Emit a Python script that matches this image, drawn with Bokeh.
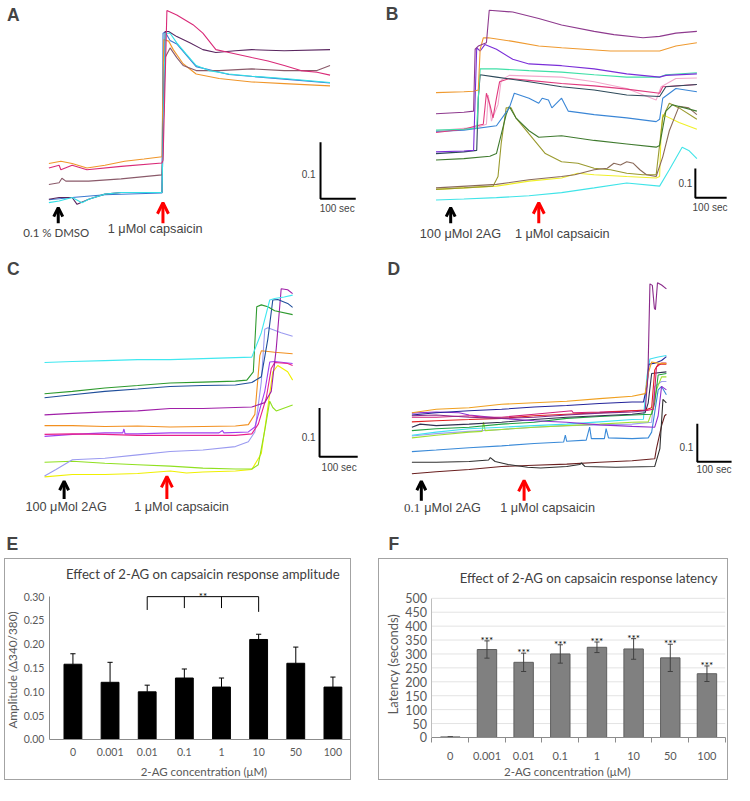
import numpy as np
from bokeh.plotting import figure
from bokeh.models import Range1d, Label, Arrow, OpenHead, FixedTicker, PrintfTickFormatter, ColumnDataSource, Spacer
from bokeh.layouts import column, row
from bokeh.embed import file_html
from bokeh.resources import INLINE
from bokeh.core.properties import value

SANS = "Liberation Sans"
SERIF = "Liberation Serif"
XL = "Lato"

# ---------------- Panel A (time in s, Fura-2 ratio 340/380)
a_blue_t = [4, 70, 163, 325, 328, 334, 348, 367, 422, 515, 672, 802]
a_blue_r = [0.519, 0.523, 0.528, 0.531, 0.813, 0.815, 0.800, 0.794, 0.754, 0.740, 0.732, 0.725]
a_orange_t = [4, 38, 70, 112, 163, 219, 274, 325, 330, 344, 357, 385, 422, 487, 580, 672, 802]
a_orange_r = [0.583, 0.587, 0.583, 0.575, 0.580, 0.587, 0.591, 0.595, 0.802, 0.799, 0.784, 0.759, 0.741, 0.733, 0.727, 0.724, 0.720]
a_crimson_t = [4, 33, 38, 70, 112, 209, 325, 328, 339, 367, 413, 441, 478, 515, 580, 626, 672, 719, 765, 802]
a_crimson_r = [0.575, 0.580, 0.572, 0.580, 0.572, 0.578, 0.584, 0.589, 0.853, 0.845, 0.828, 0.813, 0.784, 0.779, 0.770, 0.764, 0.756, 0.747, 0.744, 0.739]
a_brown_t = [4, 33, 41, 52, 117, 209, 325, 334, 348, 367, 385, 422, 487, 580, 672, 765, 802]
a_brown_r = [0.546, 0.549, 0.557, 0.552, 0.552, 0.556, 0.563, 0.770, 0.787, 0.770, 0.756, 0.747, 0.747, 0.750, 0.747, 0.747, 0.756]
a_purple_t = [4, 33, 70, 84, 117, 163, 209, 325, 334, 344, 367, 404, 441, 478, 533, 580, 626, 672, 802]
a_purple_r = [0.520, 0.523, 0.523, 0.511, 0.520, 0.529, 0.532, 0.532, 0.816, 0.816, 0.807, 0.796, 0.784, 0.779, 0.782, 0.784, 0.783, 0.782, 0.784]
a_cyan_t = [4, 33, 70, 98, 117, 163, 209, 325, 334, 348, 367, 394, 422, 459, 515, 580, 672, 802]
a_cyan_r = [0.514, 0.517, 0.523, 0.514, 0.520, 0.529, 0.532, 0.532, 0.813, 0.813, 0.796, 0.776, 0.756, 0.747, 0.741, 0.737, 0.733, 0.726]

# ---------------- Panel B
b_mauve_t = [0, 89, 120, 125, 135, 161, 170, 245, 328, 401, 505, 568, 661, 714, 766, 833]
b_mauve_r = [0.797, 0.802, 0.806, 1.017, 1.028, 1.039, 1.150, 1.144, 1.122, 1.100, 1.078, 1.067, 1.056, 1.061, 1.072, 1.078]
b_orange_t = [0, 89, 120, 135, 141, 151, 167, 245, 328, 401, 557, 714, 766, 833]
b_orange_r = [0.869, 0.872, 0.874, 0.878, 1.017, 1.056, 1.056, 1.044, 1.028, 1.022, 1.011, 1.011, 1.028, 1.039]
b_violet_t = [0, 89, 120, 125, 130, 141, 156, 193, 245, 297, 401, 505, 609, 714, 734, 833]
b_violet_r = [0.667, 0.670, 0.672, 0.850, 1.022, 1.011, 1.033, 1.017, 0.983, 0.967, 0.961, 0.950, 0.933, 0.922, 0.928, 0.933]
b_mint_t = [0, 89, 130, 135, 141, 193, 297, 401, 505, 609, 714, 734, 833]
b_mint_r = [0.741, 0.744, 0.748, 0.850, 0.950, 0.950, 0.944, 0.939, 0.930, 0.922, 0.922, 0.930, 0.937]
b_slate_t = [0, 89, 130, 135, 141, 193, 297, 401, 505, 609, 714, 734, 833]
b_slate_r = [0.661, 0.667, 0.672, 0.850, 0.930, 0.922, 0.906, 0.889, 0.878, 0.861, 0.856, 0.889, 0.897]
b_magenta_t = [0, 89, 130, 151, 161, 172, 182, 193, 203, 234, 297, 401, 505, 609, 714, 724, 833]
b_magenta_r = [0.733, 0.744, 0.756, 0.761, 0.867, 0.828, 0.783, 0.850, 0.906, 0.917, 0.911, 0.900, 0.892, 0.881, 0.867, 0.889, 0.897]
b_pink_t = [0, 89, 130, 161, 167, 177, 198, 208, 234, 401, 505, 609, 703, 719, 766, 833]
b_pink_r = [0.739, 0.747, 0.750, 0.761, 0.861, 0.772, 0.828, 0.911, 0.928, 0.922, 0.906, 0.883, 0.844, 0.889, 0.917, 0.919]
b_blue_t = [0, 89, 193, 234, 250, 297, 328, 339, 359, 370, 401, 422, 464, 505, 609, 703, 714, 724, 766, 833]
b_blue_r = [0.737, 0.741, 0.756, 0.817, 0.867, 0.850, 0.833, 0.850, 0.844, 0.817, 0.850, 0.806, 0.800, 0.794, 0.783, 0.770, 0.778, 0.850, 0.883, 0.872]
b_green_t = [0, 89, 172, 193, 224, 234, 255, 297, 328, 401, 505, 609, 703, 714, 734, 755, 833]
b_green_r = [0.639, 0.644, 0.652, 0.661, 0.794, 0.822, 0.783, 0.739, 0.717, 0.722, 0.706, 0.694, 0.683, 0.689, 0.806, 0.828, 0.806]
b_olive_t = [0, 89, 182, 198, 208, 224, 240, 255, 297, 349, 401, 453, 505, 557, 609, 661, 703, 724, 745, 776, 833]
b_olive_r = [0.539, 0.544, 0.550, 0.583, 0.694, 0.817, 0.817, 0.783, 0.728, 0.661, 0.633, 0.628, 0.611, 0.606, 0.594, 0.589, 0.589, 0.783, 0.833, 0.817, 0.778]
b_brown_t = [0, 193, 297, 401, 443, 505, 547, 568, 589, 609, 630, 651, 672, 703, 724, 745, 776, 807, 833]
b_brown_r = [0.544, 0.556, 0.572, 0.583, 0.589, 0.606, 0.611, 0.628, 0.622, 0.633, 0.628, 0.606, 0.589, 0.583, 0.650, 0.739, 0.822, 0.817, 0.794]
b_yellow_t = [0, 89, 193, 297, 401, 453, 505, 609, 703, 714, 719, 724, 776, 833]
b_yellow_r = [0.539, 0.544, 0.550, 0.567, 0.578, 0.594, 0.589, 0.583, 0.578, 0.583, 0.739, 0.794, 0.767, 0.744]
b_cyan_t = [0, 89, 193, 297, 401, 505, 609, 714, 745, 786, 807, 833]
b_cyan_r = [0.503, 0.506, 0.511, 0.517, 0.528, 0.544, 0.561, 0.550, 0.606, 0.683, 0.672, 0.644]

# ---------------- Panel C
c_cyan_t = [0, 73, 158, 244, 329, 415, 500, 543, 568, 590, 603, 628, 650]
c_cyan_r = [0.739, 0.741, 0.743, 0.745, 0.745, 0.747, 0.749, 0.750, 0.800, 0.867, 0.870, 0.873, 0.877]
c_green_t = [0, 73, 158, 244, 329, 415, 500, 530, 547, 556, 568, 585, 603, 650]
c_green_r = [0.675, 0.680, 0.687, 0.692, 0.697, 0.699, 0.701, 0.703, 0.720, 0.853, 0.857, 0.853, 0.845, 0.837]
c_navy_t = [0, 73, 158, 244, 329, 415, 500, 543, 568, 585, 598, 611, 637, 650]
c_navy_r = [0.667, 0.673, 0.680, 0.685, 0.690, 0.692, 0.693, 0.698, 0.710, 0.787, 0.867, 0.868, 0.860, 0.852]
c_purple_t = [0, 73, 158, 244, 329, 415, 500, 543, 577, 594, 607, 620, 637, 650]
c_purple_r = [0.632, 0.635, 0.638, 0.640, 0.645, 0.645, 0.647, 0.648, 0.657, 0.680, 0.767, 0.890, 0.888, 0.880]
c_lavender_t = [0, 30, 73, 158, 244, 329, 415, 500, 534, 551, 568, 577, 585, 620, 650]
c_lavender_r = [0.507, 0.520, 0.540, 0.543, 0.550, 0.557, 0.560, 0.567, 0.577, 0.597, 0.700, 0.807, 0.810, 0.800, 0.793]
c_orange_t = [0, 73, 158, 244, 329, 415, 500, 534, 551, 564, 568, 603, 650]
c_orange_r = [0.610, 0.610, 0.608, 0.609, 0.607, 0.608, 0.609, 0.612, 0.633, 0.753, 0.763, 0.760, 0.757]
c_pink_t = [0, 73, 158, 244, 329, 415, 500, 543, 560, 581, 594, 603, 637, 650]
c_pink_r = [0.592, 0.593, 0.592, 0.590, 0.590, 0.590, 0.590, 0.593, 0.613, 0.667, 0.727, 0.739, 0.737, 0.733]
c_violet_t = [0, 73, 158, 205, 208, 211, 244, 329, 457, 466, 470, 534, 551, 577, 590, 603, 650]
c_violet_r = [0.588, 0.592, 0.595, 0.595, 0.603, 0.593, 0.593, 0.595, 0.595, 0.600, 0.595, 0.597, 0.607, 0.680, 0.740, 0.741, 0.737]
c_lime_t = [0, 73, 158, 244, 329, 415, 500, 543, 560, 577, 590, 598, 607, 650]
c_lime_r = [0.535, 0.537, 0.533, 0.530, 0.527, 0.523, 0.521, 0.521, 0.530, 0.600, 0.660, 0.647, 0.640, 0.652]
c_yellow_t = [0, 73, 158, 244, 329, 372, 415, 500, 543, 568, 585, 598, 611, 637, 650]
c_yellow_r = [0.505, 0.510, 0.510, 0.512, 0.517, 0.513, 0.515, 0.517, 0.520, 0.553, 0.647, 0.720, 0.733, 0.720, 0.703]

# ---------------- Panel D
d_purple_t = [1, 72, 168, 263, 358, 453, 549, 644, 682, 690, 696, 703, 709, 712, 718, 730, 744]
d_purple_r = [0.654, 0.656, 0.650, 0.647, 0.650, 0.656, 0.661, 0.664, 0.667, 0.756, 1.000, 0.996, 0.936, 0.932, 1.003, 0.997, 0.987]
d_orange_t = [1, 72, 168, 263, 358, 453, 549, 644, 682, 691, 701, 720, 744]
d_orange_r = [0.662, 0.671, 0.675, 0.684, 0.688, 0.692, 0.699, 0.705, 0.712, 0.765, 0.795, 0.792, 0.791]
d_navy_t = [1, 72, 168, 263, 358, 453, 549, 644, 677, 687, 693, 710, 730, 744]
d_navy_r = [0.656, 0.662, 0.667, 0.671, 0.677, 0.681, 0.686, 0.690, 0.690, 0.731, 0.789, 0.792, 0.799, 0.809]
d_cyan_t = [1, 72, 168, 263, 358, 453, 549, 644, 677, 687, 696, 720, 744]
d_cyan_r = [0.603, 0.611, 0.620, 0.624, 0.628, 0.632, 0.638, 0.644, 0.645, 0.756, 0.803, 0.808, 0.812]
d_red_t = [1, 72, 168, 263, 358, 453, 549, 644, 682, 701, 710, 720, 744]
d_red_r = [0.638, 0.641, 0.644, 0.647, 0.654, 0.658, 0.662, 0.667, 0.669, 0.675, 0.774, 0.789, 0.789]
d_magenta_t = [1, 72, 168, 215, 263, 358, 468, 472, 549, 644, 687, 706, 715, 730, 744]
d_magenta_r = [0.650, 0.650, 0.654, 0.650, 0.650, 0.658, 0.667, 0.662, 0.664, 0.667, 0.668, 0.671, 0.782, 0.792, 0.792]
d_dark_t = [1, 25, 72, 168, 263, 358, 453, 549, 644, 682, 691, 701, 744]
d_dark_r = [0.624, 0.632, 0.628, 0.632, 0.637, 0.644, 0.650, 0.654, 0.658, 0.662, 0.688, 0.765, 0.769]
d_green_t = [1, 72, 168, 263, 358, 453, 549, 644, 701, 710, 720, 744]
d_green_r = [0.615, 0.620, 0.624, 0.632, 0.637, 0.647, 0.652, 0.656, 0.658, 0.688, 0.761, 0.765]
d_lime_t = [1, 72, 168, 206, 210, 215, 263, 358, 453, 549, 644, 691, 701, 715, 730, 744]
d_lime_r = [0.596, 0.603, 0.611, 0.613, 0.637, 0.615, 0.618, 0.624, 0.628, 0.632, 0.637, 0.638, 0.662, 0.722, 0.756, 0.756]
d_violet_t = [1, 72, 139, 168, 263, 358, 453, 549, 644, 710, 720, 730, 744]
d_violet_r = [0.661, 0.664, 0.662, 0.656, 0.647, 0.641, 0.637, 0.630, 0.626, 0.624, 0.654, 0.731, 0.722]
d_lavender_t = [1, 72, 168, 263, 358, 453, 549, 644, 701, 710, 730, 744]
d_lavender_r = [0.601, 0.607, 0.613, 0.618, 0.624, 0.628, 0.630, 0.632, 0.637, 0.731, 0.744, 0.744]
d_blue_t = [1, 72, 168, 263, 358, 444, 449, 453, 510, 520, 525, 563, 568, 575, 644, 691, 701, 720, 730, 744]
d_blue_r = [0.560, 0.564, 0.570, 0.575, 0.581, 0.585, 0.603, 0.587, 0.590, 0.624, 0.594, 0.594, 0.620, 0.596, 0.594, 0.596, 0.611, 0.722, 0.731, 0.709]
d_black_t = [1, 72, 168, 225, 230, 244, 282, 339, 377, 453, 491, 496, 506, 596, 710, 725, 734, 744]
d_black_r = [0.532, 0.532, 0.534, 0.538, 0.544, 0.534, 0.526, 0.519, 0.517, 0.521, 0.526, 0.530, 0.521, 0.519, 0.521, 0.568, 0.697, 0.688]
d_maroon_t = [1, 72, 168, 263, 358, 453, 549, 644, 710, 715, 730, 739, 744]
d_maroon_r = [0.502, 0.507, 0.513, 0.521, 0.524, 0.527, 0.532, 0.536, 0.541, 0.568, 0.628, 0.654, 0.658]

SCALE_SEC = 100
SCALE_RATIO = 0.1

# ---------------- Panels E / F
conc_labels = ["0", "0.001", "0.01", "0.1", "1", "10", "50", "100"]
amp_mean = [0.158, 0.120, 0.100, 0.129, 0.110, 0.210, 0.160, 0.110]
amp_sem = [0.022, 0.042, 0.014, 0.019, 0.019, 0.011, 0.034, 0.021]
amp_ticks = [0, 0.05, 0.10, 0.15, 0.20, 0.25, 0.30]
sig_groups = [2, 3, 4, 5]
sig_bottom = [0.272, 0.276, 0.276, 0.268]
sig_level = 0.30
sig_text = "**"
lat_mean = [2, 316, 270, 300, 324, 318, 286, 229]
lat_sem = [0, 31, 33, 33, 19, 37, 49, 28]
lat_ticks = list(range(0, 501, 50))
lat_sig = ["", "***", "***", "***", "***", "***", "***", "***"]

FIG_W = 367
REF_W = 375


def trace_panel(rx0, ry0, rh, H, a, kx, b, ky, traces):
    fx = lambda X: (X - a) / kx
    fy = lambda Y: 0.5 + (b - Y) / ky
    p = figure(width=FIG_W, height=H, x_range=Range1d(fx(rx0), fx(rx0 + REF_W)),
               y_range=Range1d(fy(ry0 + rh), fy(ry0)), output_backend="svg",
               toolbar_location=None, min_border=0, title=None,
               x_axis_location=None, y_axis_location=None)
    p.outline_line_color = None
    p.xgrid.visible = False
    p.ygrid.visible = False
    for t, r, c in traces:
        p.line(t, r, line_color=c, line_width=1.1)
    return p, fx, fy


def letter(p, fx, fy, txt, X, Y):
    p.add_layout(Label(x=fx(X), y=fy(Y), text=txt, text_font=SANS, text_font_style="bold",
                       text_font_size="17.5px", text_align="center", text_baseline="middle"))


def decorate(p, fx, fy, corner, lab01, lab100, arrows, texts):
    t0, r0 = fx(corner[0]), fy(corner[1])
    p.line([t0, t0, t0 + SCALE_SEC], [r0 + SCALE_RATIO, r0, r0], line_color="black", line_width=2)
    p.add_layout(Label(x=fx(lab01[0]), y=fy(lab01[1]), text="0.1", text_font=SANS,
                       text_font_size="10px", text_align="right", text_baseline="middle"))
    p.add_layout(Label(x=fx(lab100[0]), y=fy(lab100[1]), text="100 sec", text_font=SANS,
                       text_font_size="10px", text_align="center", text_baseline="middle"))
    for X, tail, tip, col, hs in arrows:
        p.add_layout(Arrow(end=OpenHead(size=hs, line_width=3, line_color=col),
                           x_start=fx(X), y_start=fy(tail), x_end=fx(X), y_end=fy(tip),
                           line_color=col, line_width=3))
    for txt, X, Y, font, size, align in texts:
        p.add_layout(Label(x=fx(X), y=fy(Y), text=txt, text_font=font, text_font_size=size,
                           text_align=align, text_baseline="middle"))


# ---- A
pA, fx, fy = trace_panel(0, 0, 262, 256, 48, 0.36, 215, 580, [
    (a_blue_t, a_blue_r, "#3b78d0"), (a_orange_t, a_orange_r, "#f0962a"),
    (a_brown_t, a_brown_r, "#8a5a6a"), (a_purple_t, a_purple_r, "#5a2660"),
    (a_cyan_t, a_cyan_r, "#33e0e6"), (a_crimson_t, a_crimson_r, "#d92a78")])
letter(pA, fx, fy, "A", 13, 15)
decorate(pA, fx, fy, (327, 203), (322, 178), (344, 213),
         [(59, 228, 212, "black", 9), (166, 228, 207, "red", 11)],
         [("0.1 % DMSO", 57, 237, XL, "11.5px", "center"),
          ("1 \u03bcMol capsaicin", 158, 234, SANS, "12.7px", "center")])

# ---- B
pB, fx, fy = trace_panel(375, 0, 262, 256, 445, 0.32, 205, 300, [
    (b_cyan_t, b_cyan_r, "#40e4e8"), (b_yellow_t, b_yellow_r, "#f0f028"),
    (b_olive_t, b_olive_r, "#9a9a2e"), (b_brown_t, b_brown_r, "#8a6a5a"),
    (b_green_t, b_green_r, "#3f7a2e"), (b_blue_t, b_blue_r, "#3a86d6"),
    (b_pink_t, b_pink_r, "#f2a8cc"), (b_magenta_t, b_magenta_r, "#e03a7e"),
    (b_slate_t, b_slate_r, "#2e4a5a"), (b_mint_t, b_mint_r, "#40e0a8"),
    (b_violet_t, b_violet_r, "#7a2ed8"), (b_orange_t, b_orange_r, "#ef9a30"),
    (b_mauve_t, b_mauve_r, "#8e3a8e")])
letter(pB, fx, fy, "B", 400, 14)
decorate(pB, fx, fy, (710, 202), (707, 187), (725, 212),
         [(460, 228, 212, "black", 9), (550, 228, 207, "red", 11)],
         [("100 \u03bcMol 2AG", 470, 239, SANS, "12.7px", "center"),
          ("1 \u03bcMol capsaicin", 574, 239, SANS, "12.7px", "center")])

# ---- C (also carries the "E" panel letter)
pC, fx, fy = trace_panel(0, 262, 309, 302, 45, 0.39, 490, 500, [
    (c_yellow_t, c_yellow_r, "#f0f000"), (c_lime_t, c_lime_r, "#90e020"),
    (c_lavender_t, c_lavender_r, "#9a9af0"), (c_violet_t, c_violet_r, "#a040f0"),
    (c_pink_t, c_pink_r, "#e8208a"), (c_orange_t, c_orange_r, "#f29020"),
    (c_purple_t, c_purple_r, "#a020a8"), (c_navy_t, c_navy_r, "#1f4e9a"),
    (c_green_t, c_green_r, "#2e9a2e"), (c_cyan_t, c_cyan_r, "#40e8f0")])
letter(pC, fx, fy, "C", 13, 275)
letter(pC, fx, fy, "E", 12, 556)
decorate(pC, fx, fy, (326, 467), (322, 447), (346, 478),
         [(65, 510, 492, "black", 9), (170, 510, 487, "red", 11)],
         [("100 \u03bcMol 2AG", 67, 518, SANS, "12.7px", "center"),
          ("1 \u03bcMol capsaicin", 185, 518, SANS, "12.7px", "center")])

# ---- D (also carries the "F" panel letter)
pD, fx, fy = trace_panel(375, 262, 309, 302, 420, 0.35, 485, 390, [
    (d_maroon_t, d_maroon_r, "#6a2020"), (d_black_t, d_black_r, "#303030"),
    (d_blue_t, d_blue_r, "#3a8ad8"), (d_lavender_t, d_lavender_r, "#a0a0f0"),
    (d_lime_t, d_lime_r, "#a0e030"), (d_cyan_t, d_cyan_r, "#40e0f0"),
    (d_green_t, d_green_r, "#20a040"), (d_dark_t, d_dark_r, "#303050"),
    (d_violet_t, d_violet_r, "#9030d0"), (d_magenta_t, d_magenta_r, "#d0207a"),
    (d_red_t, d_red_r, "#e02020"), (d_navy_t, d_navy_r, "#24249a"),
    (d_orange_t, d_orange_r, "#f0a020"), (d_purple_t, d_purple_r, "#8a2a8a")])
letter(pD, fx, fy, "D", 402, 275)
letter(pD, fx, fy, "F", 402, 556)
decorate(pD, fx, fy, (712, 472), (708, 457), (729, 480),
         [(430, 512, 492, "black", 9), (535, 512, 491, "red", 11)],
         [("0.1", 429, 519, SERIF, "13px", "right"),
          ("\u03bcMol 2AG", 433, 519, SANS, "12.7px", "left"),
          ("1 \u03bcMol capsaicin", 559, 519, SANS, "12.7px", "center")])


def bar_panel(box, W, H, xmap, ymap, axis_left_ref, axis_right_ref, yb):
    bx0, by0, bx1, by1 = box
    (X1, v1), (X2, v2) = xmap
    (Y1, w1), (Y2, w2) = ymap
    fx = lambda X: v1 + (X - X1) * (v2 - v1) / (X2 - X1)
    fy = lambda Y: w1 + (Y - Y1) * (w2 - w1) / (Y2 - Y1)
    p = figure(width=W, height=H, x_range=Range1d(fx(bx0), fx(bx1)),
               y_range=Range1d(fy(by1), fy(by0)), min_border=0,
               output_backend="svg", toolbar_location=None, title=None)
    p.outline_line_color = None
    p.xgrid.visible = False
    p.ygrid.visible = False
    p.border_fill_color = None
    p.background_fill_color = None
    p.styles = {"outline": "1px solid #a3a3a3", "outline-offset": "-1px"}
    for ax in (p.xaxis[0], p.yaxis[0]):
        ax.major_tick_line_color = None
        ax.minor_tick_line_color = None
        ax.major_tick_out = 0
        ax.major_tick_in = 0
        ax.major_label_text_color = "#595959"
        ax.major_label_text_font = XL
        ax.axis_line_color = "#8c8c8c"
    p.xaxis.fixed_location = 0
    p.xaxis.bounds = (fx(axis_left_ref), fx(axis_right_ref))
    p.yaxis.fixed_location = fx(axis_left_ref)
    p.yaxis.bounds = yb
    return p, fx, fy


def ptext(p, fx, fy, txt, X, Y, size, color="#595959", angle=0.0):
    p.text(x=[fx(X)], y=[fy(Y)], text=[txt], angle=angle, text_font=value(XL),
           text_font_size=size, text_color=color, text_align="center", text_baseline="middle")


idx = np.arange(len(conc_labels))

# ---- E
pE, fx, fy = bar_panel((4, 571, 359, 798), 347, 222, ((74, 0), (340, 7)), ((756, 0), (610, 0.30)),
                       50, 358.3, (amp_ticks[0], amp_ticks[-1]))
pE.xaxis.ticker = FixedTicker(ticks=list(idx))
pE.xaxis.major_label_overrides = {int(i): l for i, l in zip(idx, conc_labels)}
pE.xaxis.major_label_text_font_size = "10.5px"
pE.xaxis.major_label_standoff = 9
pE.yaxis.ticker = FixedTicker(ticks=amp_ticks)
pE.yaxis.formatter = PrintfTickFormatter(format="%.2f")
pE.yaxis.major_label_text_font_size = "10.5px"
pE.yaxis.major_label_standoff = 5
am = np.array(amp_mean)
atop = am + np.array(amp_sem)
pE.vbar(x=idx, top=am, width=0.48, fill_color="black", line_color="black")
pE.segment(x0=idx, y0=am, x1=idx, y1=atop, line_color="black", line_width=1)
pE.segment(x0=idx - 0.07, y0=atop, x1=idx + 0.07, y1=atop, line_color="black", line_width=1)
sg = np.array(sig_groups)
pE.segment(x0=[sg[0]], y0=[sig_level], x1=[sg[-1]], y1=[sig_level], line_color="black", line_width=1)
pE.segment(x0=sg, y0=[sig_level] * len(sg), x1=sg, y1=sig_bottom, line_color="black", line_width=1)
pE.text(x=[(sg[0] + sg[-1]) / 2], y=[sig_level + 0.002], text=[sig_text], text_font=value(XL),
        text_font_size="10px", text_align="center", text_baseline="alphabetic", text_color="black")
ptext(pE, fx, fy, "Effect of 2-AG on capsaicin response amplitude", 207, 587, "13.2px", "#404040")
ptext(pE, fx, fy, "Amplitude (\u0394340/380)", 12, 685, "11.8px", angle=np.pi / 2)
ptext(pE, fx, fy, "2-AG concentration (\u03bcM)", 208, 789, "11.5px")

# ---- F
pF, fx, fy = bar_panel((387, 572, 745, 799), 350, 222, ((441.7, -0.5), (741.7, 7.5)),
                       ((755, 0), (612.7, 500)), 441.7, 741.7, (lat_ticks[0], lat_ticks[-1]))
pF.xaxis.ticker = FixedTicker(ticks=list(idx), minor_ticks=[i - 0.5 for i in range(len(idx) + 1)])
pF.xaxis.major_label_overrides = {int(i): l for i, l in zip(idx, conc_labels)}
pF.xaxis.minor_tick_line_color = "#8c8c8c"
pF.xaxis.minor_tick_out = 5
pF.xaxis.minor_tick_in = 0
pF.xaxis.major_label_text_font_size = "11px"
pF.xaxis.major_label_standoff = 10
pF.yaxis.ticker = FixedTicker(ticks=lat_ticks)
pF.yaxis.axis_line_color = "#bdbdbd"
pF.yaxis.major_label_text_font_size = "12.5px"
pF.yaxis.major_label_standoff = 5
grid_t = np.array(lat_ticks[1:])
pF.segment(x0=[-0.5] * len(grid_t), y0=grid_t, x1=[7.5] * len(grid_t), y1=grid_t,
           line_color="#e3e3e3", line_width=1)
lm = np.array(lat_mean)
le = np.array(lat_sem)
pF.vbar(x=idx, top=lm, width=0.53, fill_color="#808080", line_color="#5f5f5f")
pF.segment(x0=idx, y0=lm - le, x1=idx, y1=lm + le, line_color="#404040", line_width=1)
pF.segment(x0=idx - 0.07, y0=lm + le, x1=idx + 0.07, y1=lm + le, line_color="#404040", line_width=1)
pF.segment(x0=idx - 0.07, y0=lm - le, x1=idx + 0.07, y1=lm - le, line_color="#404040", line_width=1)
star_src = ColumnDataSource(dict(x=idx, y=lm + le + 4, t=lat_sig))
pF.text(x="x", y="y", text="t", source=star_src, text_font=value(XL), text_font_size="10px",
        text_align="center", text_baseline="alphabetic", text_color="black")
ptext(pF, fx, fy, "Effect of 2-AG on capsaicin response latency", 602, 592, "13.2px", "#404040")
ptext(pF, fx, fy, "Latency (seconds)", 402, 680, "13px", angle=np.pi / 2)
ptext(pF, fx, fy, "2-AG concentration (\u03bcM)", 580, 790, "11.5px")

layout = column(row(pA, pB), row(pC, pD),
                row(Spacer(width=4, height=222), pE, Spacer(width=27, height=222), pF))
open("out.html", "w").write(file_html(layout, INLINE))
